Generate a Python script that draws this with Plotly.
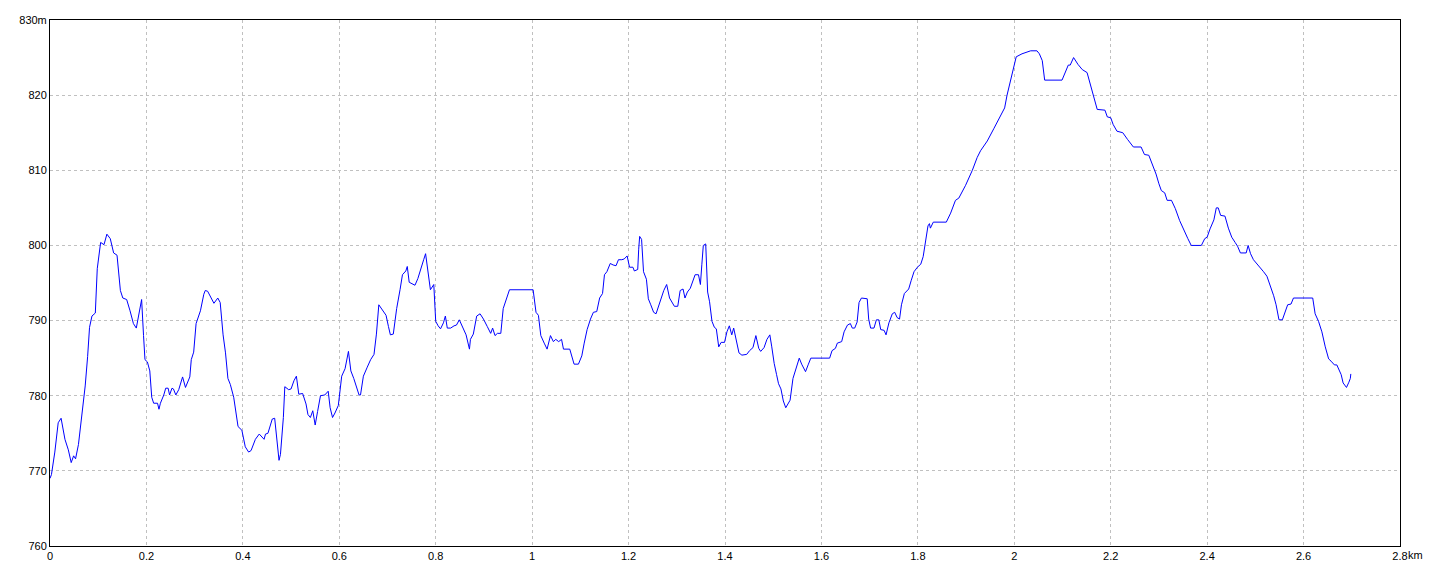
import plotly.graph_objects as go

distance_km = [
    0.000, 0.003, 0.010, 0.017, 0.023, 0.031, 0.038, 0.044, 0.049, 0.053, 0.059, 0.066, 0.073, 0.078, 0.082,
    0.087, 0.094, 0.098, 0.105, 0.112, 0.118, 0.125, 0.132, 0.139, 0.146, 0.151, 0.159, 0.166, 0.173, 0.179,
    0.186, 0.190, 0.194, 0.197, 0.202, 0.207, 0.211, 0.215, 0.223, 0.226, 0.229, 0.236, 0.240, 0.245, 0.248,
    0.253, 0.256, 0.261, 0.267, 0.275, 0.281, 0.290, 0.293, 0.298, 0.303, 0.312, 0.319, 0.322, 0.327, 0.334,
    0.340, 0.348, 0.353, 0.359, 0.364, 0.369, 0.374, 0.381, 0.387, 0.390, 0.398, 0.405, 0.412, 0.417, 0.426,
    0.434, 0.444, 0.447, 0.452, 0.461, 0.466, 0.471, 0.475, 0.478, 0.484, 0.487, 0.495, 0.500, 0.506, 0.511,
    0.516, 0.524, 0.531, 0.535, 0.540, 0.545, 0.550, 0.555, 0.561, 0.570, 0.577, 0.581, 0.586, 0.591, 0.598,
    0.605, 0.612, 0.619, 0.624, 0.630, 0.636, 0.641, 0.644, 0.650, 0.658, 0.665, 0.672, 0.677, 0.682, 0.688,
    0.697, 0.702, 0.706, 0.712, 0.719, 0.726, 0.731, 0.738, 0.741, 0.745, 0.752, 0.757, 0.763, 0.771, 0.775,
    0.779, 0.785, 0.789, 0.796, 0.800, 0.805, 0.810, 0.816, 0.820, 0.824, 0.831, 0.838, 0.843, 0.849, 0.854,
    0.863, 0.870, 0.872, 0.878, 0.885, 0.892, 0.899, 0.907, 0.914, 0.918, 0.923, 0.928, 0.935, 0.940, 0.947,
    0.953, 1.002, 1.008, 1.013, 1.018, 1.025, 1.031, 1.038, 1.044, 1.049, 1.055, 1.061, 1.065, 1.078, 1.087,
    1.096, 1.103, 1.108, 1.114, 1.121, 1.127, 1.134, 1.140, 1.146, 1.150, 1.155, 1.162, 1.168, 1.174, 1.179,
    1.186, 1.191, 1.197, 1.202, 1.209, 1.212, 1.219, 1.221, 1.223, 1.227, 1.231, 1.237, 1.241, 1.246, 1.252,
    1.257, 1.262, 1.267, 1.273, 1.279, 1.285, 1.295, 1.302, 1.307, 1.313, 1.317, 1.322, 1.328, 1.333, 1.338,
    1.345, 1.349, 1.352, 1.355, 1.360, 1.364, 1.368, 1.373, 1.378, 1.382, 1.387, 1.392, 1.399, 1.404, 1.409,
    1.414, 1.418, 1.423, 1.429, 1.435, 1.445, 1.451, 1.458, 1.464, 1.470, 1.474, 1.481, 1.487, 1.493, 1.497,
    1.502, 1.507, 1.511, 1.516, 1.521, 1.526, 1.535, 1.541, 1.546, 1.550, 1.554, 1.559, 1.567, 1.573, 1.578,
    1.617, 1.622, 1.629, 1.633, 1.642, 1.647, 1.654, 1.660, 1.664, 1.669, 1.674, 1.678, 1.683, 1.695, 1.698,
    1.702, 1.709, 1.714, 1.719, 1.723, 1.730, 1.734, 1.740, 1.747, 1.752, 1.757, 1.762, 1.766, 1.772, 1.781,
    1.786, 1.792, 1.799, 1.806, 1.811, 1.816, 1.821, 1.824, 1.826, 1.832, 1.859, 1.868, 1.878, 1.885, 1.899,
    1.913, 1.923, 1.930, 1.944, 1.958, 1.975, 1.980, 1.985, 1.992, 1.998, 2.004, 2.016, 2.027, 2.034, 2.047,
    2.052, 2.058, 2.063, 2.099, 2.106, 2.112, 2.116, 2.123, 2.132, 2.141, 2.151, 2.157, 2.164, 2.169, 2.172,
    2.188, 2.193, 2.200, 2.205, 2.213, 2.225, 2.235, 2.247, 2.263, 2.270, 2.279, 2.286, 2.294, 2.300, 2.305,
    2.312, 2.317, 2.326, 2.334, 2.343, 2.353, 2.360, 2.367, 2.388, 2.395, 2.400, 2.406, 2.414, 2.419, 2.423,
    2.428, 2.437, 2.444, 2.451, 2.458, 2.463, 2.469, 2.481, 2.485, 2.490, 2.496, 2.506, 2.517, 2.524, 2.531,
    2.538, 2.543, 2.549, 2.556, 2.562, 2.567, 2.574, 2.579, 2.619, 2.624, 2.631, 2.638, 2.645, 2.652, 2.657,
    2.664, 2.669, 2.673, 2.678, 2.682, 2.689, 2.694, 2.697, 2.698,
]

elevation_m = [
    769.0, 769.5, 772.5, 776.4, 777.0, 774.2, 772.8, 771.1, 772.0, 771.6, 773.5, 777.5, 781.3, 785.2, 789.1,
    790.6, 791.0, 796.9, 800.4, 800.1, 801.5, 800.9, 799.0, 798.7, 794.0, 793.0, 792.8, 791.3, 789.6, 789.0,
    791.3, 792.8, 788.0, 784.8, 784.5, 783.3, 779.8, 779.0, 779.0, 778.2, 779.0, 780.1, 781.0, 781.0, 780.1,
    781.0, 780.9, 780.1, 780.8, 782.5, 781.1, 782.5, 784.8, 785.8, 789.6, 791.3, 793.5, 794.0, 793.9, 793.0,
    792.3, 793.0, 792.4, 788.1, 785.7, 782.3, 781.5, 779.8, 777.4, 775.9, 775.4, 773.2, 772.5, 772.7, 774.2,
    774.9, 774.2, 774.9, 775.0, 776.9, 777.0, 774.2, 771.4, 772.2, 777.1, 781.2, 780.8, 780.9, 782.0, 782.6,
    780.2, 780.3, 778.9, 777.5, 777.1, 778.0, 776.1, 777.9, 780.0, 780.1, 780.6, 778.4, 777.1, 777.7, 778.7,
    782.6, 783.6, 785.9, 783.3, 782.3, 781.1, 780.1, 780.1, 782.6, 783.8, 784.8, 785.5, 788.2, 792.1, 791.6,
    790.7, 789.2, 788.1, 788.2, 791.6, 794.1, 796.1, 796.6, 797.2, 795.1, 794.9, 794.7, 795.6, 797.5, 798.1,
    798.9, 796.4, 794.1, 794.8, 789.9, 789.3, 788.9, 789.7, 790.6, 789.0, 789.0, 789.3, 789.4, 790.1, 789.3,
    788.1, 786.2, 787.5, 788.2, 790.6, 790.9, 790.2, 789.2, 788.3, 789.0, 788.0, 788.3, 788.3, 791.6, 792.8,
    794.1, 794.1, 791.1, 790.7, 788.0, 787.0, 786.2, 788.0, 787.2, 787.5, 787.2, 787.5, 786.2, 786.2, 784.2,
    784.2, 785.3, 787.0, 788.8, 790.2, 791.1, 791.2, 793.0, 793.6, 796.1, 796.5, 797.6, 797.4, 797.3, 798.1,
    798.1, 798.2, 798.6, 797.1, 797.1, 796.6, 796.8, 799.5, 801.2, 800.8, 796.5, 795.5, 792.9, 792.1, 791.1,
    790.9, 791.9, 793.0, 794.0, 794.8, 793.0, 791.9, 791.9, 794.0, 794.2, 793.0, 793.8, 794.3, 795.2, 796.1,
    796.1, 794.8, 797.5, 800.0, 800.2, 793.8, 792.5, 789.9, 789.1, 788.9, 786.5, 787.1, 787.1, 788.5, 789.3,
    788.1, 789.0, 787.5, 785.7, 785.4, 785.5, 786.0, 786.4, 788.0, 786.3, 785.9, 786.4, 787.5, 788.1, 786.5,
    784.3, 782.8, 781.6, 780.9, 779.3, 778.4, 779.4, 782.3, 783.4, 784.3, 785.0, 784.2, 783.2, 784.2, 785.0,
    785.0, 786.0, 786.3, 787.0, 787.2, 788.5, 789.4, 789.6, 789.0, 789.0, 789.8, 792.4, 793.0, 792.9, 790.2,
    789.0, 789.0, 790.1, 790.1, 788.8, 788.7, 788.1, 789.7, 790.9, 791.1, 790.4, 790.2, 792.1, 793.6, 794.2,
    795.3, 796.5, 797.1, 797.5, 798.5, 800.4, 802.6, 802.9, 802.3, 803.1, 803.1, 804.3, 806.0, 806.3, 808.0,
    810.0, 811.7, 812.6, 813.9, 815.6, 817.8, 818.3, 820.0, 821.8, 823.4, 825.1, 825.5, 825.8, 825.9, 825.9,
    825.5, 824.6, 822.0, 822.0, 823.2, 824.0, 824.0, 825.0, 824.1, 823.4, 823.0, 821.7, 820.0, 818.8, 818.1,
    818.0, 817.1, 817.0, 816.1, 815.2, 815.0, 814.1, 813.1, 813.1, 812.1, 812.0, 810.9, 809.5, 808.2, 807.3,
    807.0, 806.0, 806.0, 804.9, 803.3, 801.8, 800.9, 800.0, 800.0, 800.9, 801.1, 802.2, 803.4, 805.0, 805.0,
    804.0, 803.9, 802.3, 801.1, 800.4, 799.9, 799.0, 799.0, 800.0, 798.9, 798.1, 797.4, 796.5, 795.9, 794.7,
    793.3, 792.1, 790.1, 790.1, 791.1, 792.1, 792.2, 793.0, 793.0, 790.9, 789.9, 788.5, 786.5, 784.9, 784.6,
    784.1, 784.1, 783.6, 782.8, 781.7, 781.1, 781.8, 782.3, 782.9,
]

x_tick_vals = [0, 0.2, 0.4, 0.6, 0.8, 1.0, 1.2, 1.4, 1.6, 1.8, 2.0, 2.2, 2.4, 2.6, 2.8]
x_tick_text = ["0", "0.2", "0.4", "0.6", "0.8", "1", "1.2", "1.4", "1.6", "1.8", "2", "2.2", "2.4", "2.6", "2.8"]
y_tick_vals = [760, 770, 780, 790, 800, 810, 820, 830]
y_tick_text = ["760", "770", "780", "790", "800", "810", "820", "830m"]

font = dict(family="Liberation Sans, Arial, sans-serif", size=11, color="black")

fig = go.Figure()
fig.add_trace(go.Scatter(
    x=distance_km, y=elevation_m, mode="lines",
    line=dict(color="#0000ff", width=1),
    hoverinfo="x+y", showlegend=False,
))

# page body adds an 8px margin, so the figure is offset by 8px
fig.update_layout(
    width=1424, height=560,
    margin=dict(l=42, r=32, t=12, b=22, autoexpand=False),
    paper_bgcolor="white", plot_bgcolor="white",
    font=font,
    showlegend=False,
    annotations=[dict(
        x=2.8, y=0, xref="x", yref="paper", text="km", showarrow=False,
        xanchor="left", yanchor="top", xshift=6, yshift=-1, font=font,
    )],
)
fig.update_xaxes(
    range=[0, 2.8], tickmode="array", tickvals=x_tick_vals, ticktext=x_tick_text,
    showgrid=True, gridcolor="#c0c0c0", gridwidth=1, griddash="3px,3px",
    showline=True, linecolor="black", linewidth=1, mirror=True,
    ticks="", ticklen=0, zeroline=False, tickfont=font, automargin=False,
)
fig.update_yaxes(
    range=[760, 830], tickmode="array", tickvals=y_tick_vals, ticktext=y_tick_text,
    showgrid=True, gridcolor="#c0c0c0", gridwidth=1, griddash="3px,3px",
    showline=True, linecolor="black", linewidth=1, mirror=True,
    ticks="", ticklen=0, zeroline=False, tickfont=font, automargin=False,
)

fig.write_html("out.html")
